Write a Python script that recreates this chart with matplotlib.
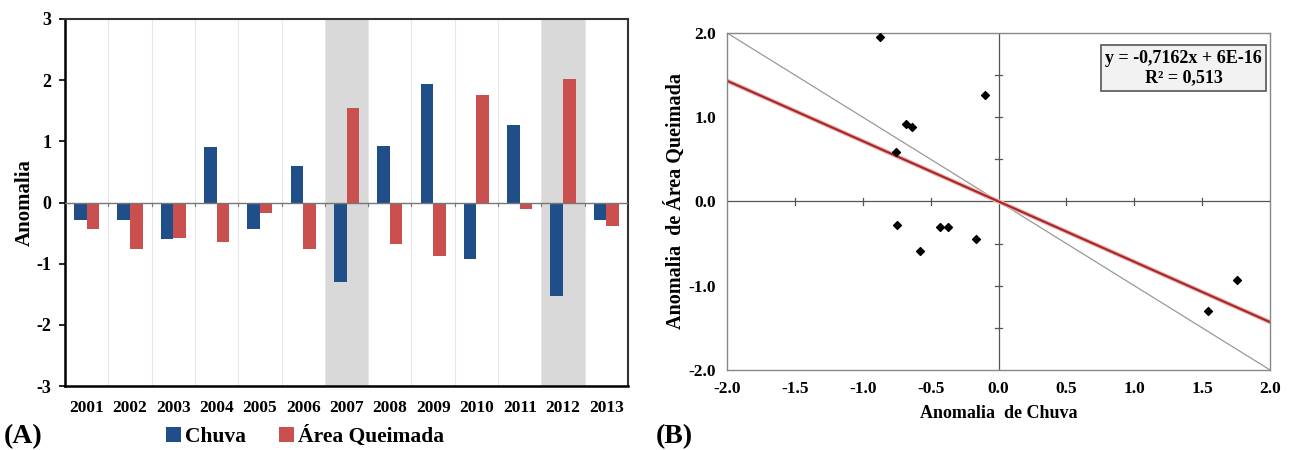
import numpy as np
import matplotlib.pyplot as plt

plt.rcParams['font.family'] = ['Liberation Serif', 'DejaVu Serif']
plt.rcParams['font.weight'] = 'bold'
plt.rcParams['axes.unicode_minus'] = False

# dados do painel A
anos = ['2001', '2002', '2003', '2004', '2005', '2006', '2007',
        '2008', '2009', '2010', '2011', '2012', '2013']
chuva = [-0.29, -0.29, -0.59, 0.90, -0.44, 0.59, -1.30,
         0.92, 1.94, -0.93, 1.27, -1.53, -0.29]
area = [-0.44, -0.76, -0.58, -0.65, -0.17, -0.76, 1.54,
        -0.68, -0.88, 1.75, -0.10, 2.02, -0.38]
anos_destaque = ['2007', '2012']

# dados do painel B
x_chuva = [-0.87, -0.10, -0.68, -0.64, -0.755, -0.75, -0.435, -0.37,
           -0.165, -0.58, 1.545, 1.755]
y_area = [1.955, 1.26, 0.92, 0.885, 0.59, -0.285, -0.30, -0.30,
          -0.44, -0.585, -1.305, -0.93]
coef = -0.7162
r2 = 0.513

fig = plt.figure(figsize=(12.93, 4.5), dpi=100)

# ---- (A) barras ----
ax1 = fig.add_axes([0.0503, 0.1422, 0.4354, 0.8156])
x = np.arange(len(anos))
w = 0.29
for a in anos_destaque:
    i = anos.index(a)
    ax1.axvspan(i - 0.5, i + 0.5, color='#d9d9d9', zorder=0, lw=0)
for i in range(1, len(anos)):
    ax1.axvline(i - 0.5, color='#e8e8e8', lw=0.8, zorder=0.5)
ax1.bar(x - w / 2, chuva, w, color='#1f4e89', label='Chuva', zorder=2)
ax1.bar(x + w / 2, area, w, color='#c9504f', label='Área Queimada', zorder=2)
ax1.axhline(0, color='#777777', lw=1.0, zorder=3)
for i in range(1, len(anos)):
    ax1.plot([i - 0.5, i - 0.5], [-0.05, 0], color='#777777', lw=0.8, zorder=3)
ax1.set_xlim(-0.5, len(anos) - 0.5)
ax1.set_ylim(-3, 3)
ax1.set_yticks([-3, -2, -1, 0, 1, 2, 3])
ax1.set_xticks(x)
ax1.set_xticklabels(anos)
ax1.tick_params(axis='x', length=0, labelsize=12.5, pad=10)
ax1.tick_params(axis='y', length=4, width=1.2, labelsize=13, direction='out', pad=6)
ax1.set_ylabel('Anomalia', fontsize=15, fontweight='bold', labelpad=1)
for s in ['left', 'bottom']:
    ax1.spines[s].set_linewidth(1.8)
    ax1.spines[s].set_color('black')
for s in ['top', 'right']:
    ax1.spines[s].set_linewidth(1.5)
    ax1.spines[s].set_color('#333333')
leg = fig.legend(*ax1.get_legend_handles_labels(), loc='center', bbox_to_anchor=(0.236, 0.03),
                 ncol=2, frameon=False, handlelength=0.7, handleheight=0.7, fontsize=15.5,
                 handletextpad=0.2, columnspacing=1.5, borderpad=0.1)
for t in leg.get_texts():
    t.set_fontfamily('Liberation Serif')
    t.set_fontweight('bold')
fig.text(0.003, 0.015, '(A)', fontsize=20, fontweight='bold')

# ---- (B) dispersao ----
ax2 = fig.add_axes([0.5623, 0.1778, 0.42, 0.749])
ax2.set_xlim(-2, 2)
ax2.set_ylim(-2, 2)
ax2.plot([-2, 2], [2, -2], color='#999999', lw=0.9, zorder=1)
xs = np.array([-2, 2])
ax2.plot(xs, coef * xs, color='#f2b5b5', lw=3.2, zorder=2)
ax2.plot(xs, coef * xs, color='#a52a2a', lw=1.6, zorder=2)
ax2.axhline(0, color='#555555', lw=0.9, zorder=1.5)
ax2.axvline(0, color='#555555', lw=0.9, zorder=1.5)
for t in [-1.5, -1.0, -0.5, 0.5, 1.0, 1.5]:
    ax2.plot([t, t], [-0.045, 0.045], color='#555555', lw=0.9, zorder=1.5)
    ax2.plot([-0.025, 0.025], [t, t], color='#555555', lw=0.9, zorder=1.5)
ax2.scatter(x_chuva, y_area, marker='D', s=16, color='black', zorder=3)
ax2.set_xticks(np.arange(-2, 2.01, 0.5))
ax2.set_xticklabels([f'{v:.1f}' for v in np.arange(-2, 2.01, 0.5)])
ax2.set_yticks([-2, -1, 0, 1, 2])
ax2.set_yticklabels(['-2.0', '-1.0', '0.0', '1.0', '2.0'])
ax2.tick_params(length=0, labelsize=12.5, pad=8)
ax2.set_xlabel('Anomalia  de Chuva', fontsize=13, fontweight='bold', labelpad=6)
ax2.set_ylabel('Anomalia  de Área Queimada', fontsize=14.5, fontweight='bold', labelpad=2)
for s in ax2.spines.values():
    s.set_color('#888888')
    s.set_linewidth(1.0)
ax2.text(0.985, 0.95, 'y = -0,7162x + 6E-16\nR² = 0,513', transform=ax2.transAxes,
         ha='right', va='top', fontsize=13, fontweight='bold', multialignment='center',
         bbox=dict(boxstyle='square,pad=0.25', fc='#f2f2f2', ec='#555555', lw=1.2))
fig.text(0.507, 0.015, '(B)', fontsize=20, fontweight='bold')

fig.savefig('out.png', dpi=100)
